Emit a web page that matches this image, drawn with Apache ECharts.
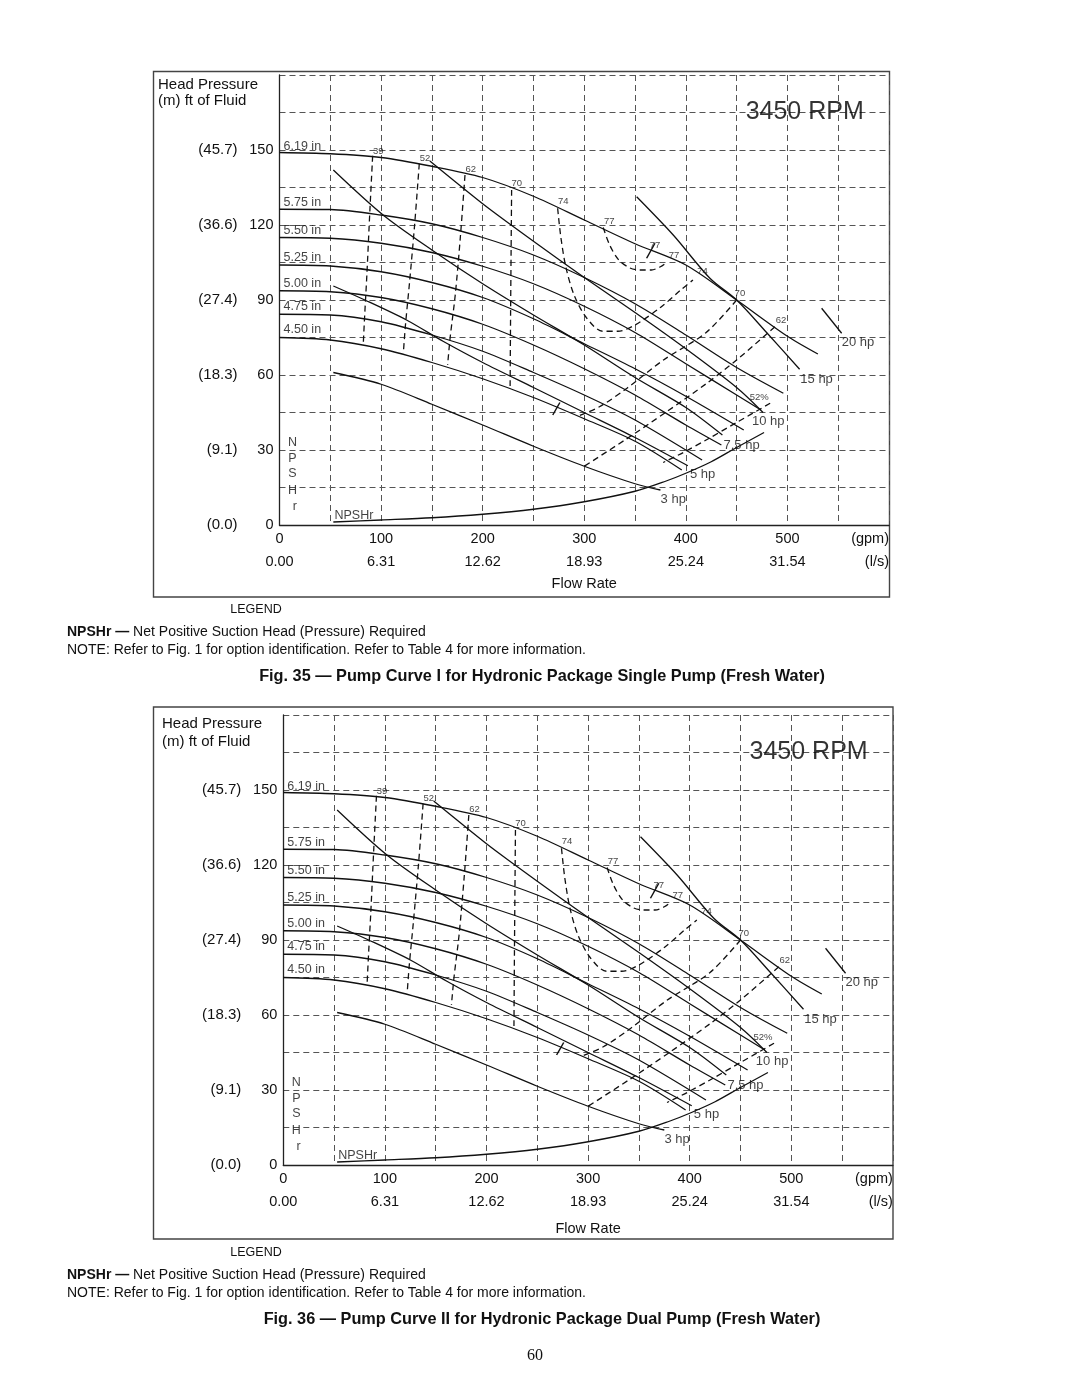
<!DOCTYPE html>
<html><head><meta charset="utf-8">
<script src="https://cdn.jsdelivr.net/npm/echarts@6/dist/echarts.min.js"></script>
<style>html,body{margin:0;padding:0;background:#fff}#c{width:1080px;height:1397px}</style>
</head><body><div id="c"></div>
<script>
// ---------- tick labels ----------
const gpmTicks = [0, 100, 200, 300, 400, 500];
const lpsTicks = ['0.00', '6.31', '12.62', '18.93', '25.24', '31.54'];
const headFtTicks = [0, 30, 60, 90, 120, 150];
const headMTicks = ['(0.0)', '(9.1)', '(18.3)', '(27.4)', '(36.6)', '(45.7)'];

// ---------- impeller curves [gpm, ft] ----------
const imp619 = [[0,149],[50,148.5],[100,147],[150,143.5],[200,139],[250,131.5],[300,122],[350,112.5],[400,104],[450,90],[500,75.5],[530,68.4]];
const imp575 = [[0,126.3],[50,126.2],[100,124],[150,120.5],[200,115],[250,108],[300,99],[350,88.5],[400,76],[450,63],[496,52.7]];
const imp550 = [[0,115],[50,114.7],[100,112.7],[150,109],[200,103.5],[250,96.5],[300,87.5],[350,77],[400,64.5],[450,52],[474,46]];
const imp525 = [[0,104],[50,103.6],[100,101.3],[150,97],[200,91],[250,82.5],[300,72.5],[350,62.5],[400,51.5],[457,38]];
const imp500 = [[0,93.7],[50,93.3],[100,91],[150,86.5],[200,80.3],[250,72],[300,62.5],[350,52],[400,40],[435,32]];
const imp475 = [[0,84.3],[50,84],[100,81.3],[150,76],[200,69.5],[250,61],[300,52],[350,42],[416,26]];
const imp450 = [[0,75],[50,74],[100,70.5],[150,65],[200,58.5],[250,51],[300,42.5],[350,33.5],[396,22]];
const impellerNames = ['6.19 in','5.75 in','5.50 in','5.25 in','5.00 in','4.75 in','4.50 in'];

// ---------- horsepower lines ----------
const hp3  = [[53,61],[100,56.3],[150,48.3],[200,40],[250,31.5],[300,23.5],[350,16.5],[375,14]];
const hp5  = [[53,95.6],[84,90],[125,82],[161,73.5],[200,65],[250,55],[300,45],[350,35],[402,23.7]];
const hp75 = [[53,142],[102,124],[150,110],[200,96.5],[250,84],[300,72],[350,59],[400,47],[436,36]];
const hp10 = [[148,145.6],[200,128.5],[227,120.3],[250,113.5],[300,99],[350,85],[400,70.5],[450,55],[476,45]];
const hp15 = [[351.6,131.3],[387.6,116],[423.7,98.7],[450,90],[479.5,77],[512,62.3]];
const hp20 = [[533.7,86.7],[553.4,76.7]];
const hpNames = ['3 hp','5 hp','7.5 hp','10 hp','15 hp','20 hp'];

// ---------- efficiency curves (dashed) ----------
const eff39  = [[91.7,147.7],[89,126],[86,100],[84,85],[82.5,72.7]];
const eff52  = [[137.6,144.5],[133,120],[128,97],[124,80],[121.9,68.7]];
const eff62  = [[182.6,140],[178,115],[173,92],[168,75],[165.5,64]];
const eff70L = [[228.5,134],[228,110],[227.5,85],[227,54]];
const eff74  = [[273.8,126.7],[277,115],[282,103],[290,92],[302,83],[318,77.5],[333,77.5],[350,80],[375,87],[395,94],[407,98]];
const eff77  = [[318.7,119],[325,112],[334,106],[345,102.8],[355,102],[366,102],[375,103.3],[381,105]];
const eff70R = [[450,90],[420,77],[378,66],[342,54.7],[315,47.3],[292.5,43.3]];
const eff62R = [[487.7,79.3],[450,66],[420,56.5],[380,45],[340,34],[300,23.5]];
const eff52R = [[483,48.7],[450,41],[420,34],[397.5,29],[377.7,25]];
const bepTickA = [[361.4,106.7],[369.6,112.7]];
const bepTickB = [[269,44],[276,49]];

// ---------- NPSHr ----------
const npshr = [[53,1.2],[100,2],[150,2.9],[200,4.3],[250,6.3],[300,9.3],[350,13.5],[380,17.5],[400,20.7],[425,25.3],[450,31],[477,37]];

// ---------- annotation anchors (data coords) ----------
const impLabelAt = [[3.5,151.3],[3.5,128.8],[3.5,117.6],[3.5,106.9],[3.5,96.7],[3.5,87.3],[3.5,78.3]];
const hpLabelAt  = [[387.6,10.4],[416.5,20.4],[454.9,31.7],[481.1,41.3],[528.7,58.4],[569.4,73.2]];
const effLabels  = ['39','52','62','70','74','77','77','77','74','70','62','52%'];
const effLabelAt = [[97.2,149.6],[143.2,146.7],[188.2,142.4],[233.5,136.7],[279.3,129.3],[324.6,121.3],[369.6,112],[388.3,108],[416.5,101.3],[453.2,92.7],[493.6,81.7],[472.2,51.1]];
const npshLetters = ['N','P','S','H','r'];
const npshLetterAt = [[12.8,32.9],[12.8,26.7],[12.8,20.4],[12.8,13.7],[15,7.3]];
const npshrTextAt = [53.6,3.6];
const rpmText = '3450 RPM';
const rpmAt = [517,165.2];

// ---------- layout ----------
const FONT = '"Liberation Sans", Arial, Helvetica, sans-serif';
const INK = '#111';
const GRIDC = '#555';
const grids = [
  {left: 279.5, top: 75, width: 609.5, height: 450, nameGap: 51, frame: [153.5, 71.5, 736, 525.5], head: [158, 85, 101]},
  {left: 283.3, top: 715, width: 609.6, height: 450, nameGap: 56, frame: [153.5, 707, 739.5, 532], head: [162, 724, 742]}
];

function xAxisFor(i) {
  return {
    gridIndex: i, type: 'value', min: 0, max: 600, interval: 50,
    name: 'Flow Rate', nameLocation: 'middle', nameGap: grids[i].nameGap,
    nameTextStyle: {fontFamily: FONT, fontSize: 14.5, color: INK},
    axisLine: {show: true, lineStyle: {color: '#222', width: 1.3}},
    axisTick: {show: false},
    axisLabel: {
      show: true, margin: 3, fontFamily: FONT, fontSize: 14.5, color: INK, lineHeight: 22.4,
      formatter: v => { const k = gpmTicks.indexOf(v); return k < 0 ? '' : v + '\n' + lpsTicks[k]; }
    },
    splitLine: {show: true, lineStyle: {color: GRIDC, width: 1, type: [6, 4]}}
  };
}
function yAxisFor(i) {
  return {
    gridIndex: i, type: 'value', min: 0, max: 180, interval: 15,
    axisLine: {show: true, lineStyle: {color: '#222', width: 1.3}},
    axisTick: {show: false},
    axisLabel: {
      show: true, margin: 6, fontFamily: FONT, fontSize: 14.5, color: INK,
      formatter: v => { const k = headFtTicks.indexOf(v); return k < 0 ? '' : '{m|' + headMTicks[k] + '}{f|' + v + '}'; },
      rich: {m: {width: 48, align: 'right', fontFamily: FONT, fontSize: 15, color: INK},
             f: {width: 36, align: 'right', fontFamily: FONT, fontSize: 14.5, color: INK}}
    },
    splitLine: {show: true, lineStyle: {color: GRIDC, width: 1, type: [6, 4]}}
  };
}

function curve(data, i, dashed, w) {
  return {type: 'line', xAxisIndex: i, yAxisIndex: i, data: data, smooth: 0.3, symbol: 'none', silent: true,
    animation: false, z: 3,
    lineStyle: {color: INK, width: w || 1.3, type: dashed ? [6, 4] : 'solid'}};
}
function labels(texts, at, i, size, pos) {
  return {type: 'scatter', xAxisIndex: i, yAxisIndex: i, symbolSize: 1, silent: true, animation: false, z: 5,
    itemStyle: {color: 'rgba(0,0,0,0)'},
    data: texts.map((t, k) => ({name: t, value: at[k]})),
    label: {show: true, formatter: '{b}', position: pos, distance: 0, fontFamily: FONT, fontSize: size, color: INK}};
}

const series = [];
const graphic = [];
[0, 1].forEach(i => {
  [imp619, imp575, imp550, imp525, imp500, imp475, imp450].forEach(d => series.push(curve(d, i, false)));
  [hp3, hp5, hp75, hp10, hp15, hp20].forEach(d => series.push(curve(d, i, false)));
  [eff39, eff52, eff62, eff70L, eff74, eff77, eff70R, eff62R, eff52R].forEach(d => series.push(curve(d, i, true)));
  [bepTickA, bepTickB].forEach(d => series.push(curve(d, i, false, 1.5)));
  series.push(curve(npshr, i, false));
  series.push(labels(impellerNames, impLabelAt, i, 12.5, 'right'));
  series.push(labels(hpNames, hpLabelAt, i, 13, 'inside'));
  series.push(labels(effLabels, effLabelAt, i, 9.5, 'inside'));
  series.push(labels(npshLetters, npshLetterAt, i, 12.5, 'inside'));
  series.push(labels(['NPSHr'], [npshrTextAt], i, 12.5, 'right'));
  const r = labels([rpmText], [rpmAt], i, 25, 'inside');
  r.label.color = '#000';
  series.push(r);

  const g = grids[i];
  graphic.push({type: 'rect', silent: true, z: -10,
    shape: {x: g.frame[0], y: g.frame[1], width: g.frame[2], height: g.frame[3]},
    style: {fill: 'none', stroke: '#444', lineWidth: 1.4}});
  graphic.push({type: 'text', silent: true, x: g.head[0], y: g.head[1],
    style: {text: 'Head Pressure', font: '15px ' + FONT, fill: INK, textVerticalAlign: 'middle'}});
  graphic.push({type: 'text', silent: true, x: g.head[0], y: g.head[2],
    style: {text: '(m) ft of Fluid', font: '15px ' + FONT, fill: INK, textVerticalAlign: 'middle'}});
  const rx = g.left + g.width;
  graphic.push({type: 'text', silent: true, x: rx, y: g.top + g.height + 14.3,
    style: {text: '(gpm)', font: '14.5px ' + FONT, fill: INK, textAlign: 'right', textVerticalAlign: 'middle'}});
  graphic.push({type: 'text', silent: true, x: rx, y: g.top + g.height + 36.7,
    style: {text: '(l/s)', font: '14.5px ' + FONT, fill: INK, textAlign: 'right', textVerticalAlign: 'middle'}});
});

const captions = [
  {dy: 0, fig: 'Fig. 35 — Pump Curve I for Hydronic Package Single Pump (Fresh Water)'},
  {dy: 643, fig: 'Fig. 36 — Pump Curve II for Hydronic Package Dual Pump (Fresh Water)'}
];
captions.forEach(c => {
  graphic.push({type: 'text', silent: true, x: 256, y: 610 + c.dy,
    style: {text: 'LEGEND', font: '12.5px ' + FONT, fill: INK, textAlign: 'center', textVerticalAlign: 'middle'}});
  graphic.push({type: 'text', silent: true, x: 67, y: 632 + c.dy,
    style: {text: '{b|NPSHr —} Net Positive Suction Head (Pressure) Required', font: '14px ' + FONT, fill: INK, textVerticalAlign: 'middle',
      rich: {b: {fontWeight: 'bold', fontFamily: FONT, fontSize: 14, fill: INK}}}});
  graphic.push({type: 'text', silent: true, x: 67, y: 650 + c.dy,
    style: {text: 'NOTE: Refer to Fig. 1 for option identification. Refer to Table 4 for more information.', font: '14px ' + FONT, fill: INK, textVerticalAlign: 'middle'}});
  graphic.push({type: 'text', silent: true, x: 542, y: 677 + c.dy,
    style: {text: c.fig, font: 'bold 16.3px ' + FONT, fill: INK, textAlign: 'center', textVerticalAlign: 'middle'}});
});
graphic.push({type: 'text', silent: true, x: 535, y: 1356,
  style: {text: '60', font: '16px "Liberation Serif", "DejaVu Serif", serif', fill: INK, textAlign: 'center', textVerticalAlign: 'middle'}});

const chart = echarts.init(document.getElementById('c'), null, {renderer: 'canvas'});
chart.setOption({
  backgroundColor: '#fff',
  animation: false,
  grid: grids.map(g => ({left: g.left, top: g.top, width: g.width, height: g.height, containLabel: false})),
  xAxis: [xAxisFor(0), xAxisFor(1)],
  yAxis: [yAxisFor(0), yAxisFor(1)],
  series: series,
  graphic: graphic
});
</script></body></html>
